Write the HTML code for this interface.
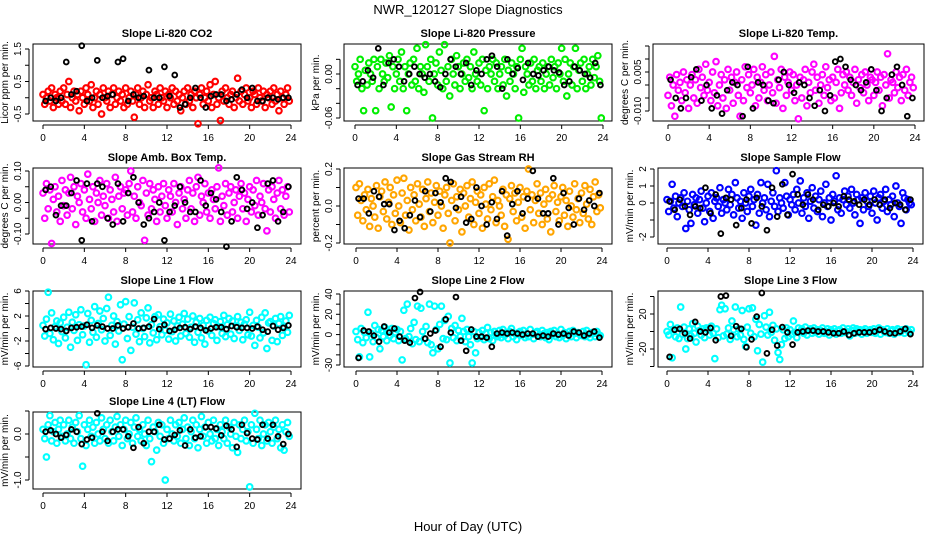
<!DOCTYPE html>
<html><head><meta charset="utf-8">
<style>
html,body{margin:0;padding:0;background:#fff;}
svg{display:block;font-family:"Liberation Sans",sans-serif;}
</style></head>
<body>
<svg id="chart" width="936" height="540" viewBox="0 0 936 540" xmlns="http://www.w3.org/2000/svg">
<text x="468" y="14" text-anchor="middle" font-size="13">NWR_120127  Slope Diagnostics</text>
<text x="468" y="531" text-anchor="middle" font-size="13">Hour of Day (UTC)</text>
</svg>
<script>
// ---- data: colored = all measurements (x = index/6 h), black = highlighted points (x = 0.25 + index/2 h)
const hourTicks = [0,4,8,12,16,20,24];

const co2Col = [0.1,-0.2,0.0,0.2,-0.1,0.3,-0.3,0.1,0.0,-0.2,0.2,-0.1,0.3,-0.2,0.1,0.5,-0.3,0.0,0.2,-0.1,0.1,-0.4,0.2,0.0,-0.2,0.3,0.1,-0.1,0.4,-0.3,0.0,0.2,-0.2,0.1,-0.5,0.3,0.0,-0.1,0.2,-0.3,0.1,0.3,-0.2,0.0,0.2,-0.1,0.1,-0.3,0.3,-0.2,0.0,0.2,-0.1,-0.6,0.1,0.3,-0.2,0.0,0.2,-0.3,0.1,0.4,-0.1,0.0,-0.3,0.2,0.1,-0.2,0.3,0.0,-0.1,0.2,-0.3,0.1,0.0,0.3,-0.2,0.2,-0.1,0.1,-0.4,0.0,0.2,-0.2,0.3,-0.1,0.1,-0.3,0.2,0.0,-0.8,0.1,0.3,-0.2,0.0,0.2,-0.1,0.4,-0.3,0.1,0.5,-0.2,0.0,-0.7,0.2,-0.1,0.3,0.0,-0.2,0.1,0.2,-0.3,0.0,0.6,-0.1,0.2,-0.2,0.1,0.3,-0.1,0.0,-0.3,0.2,0.1,-0.2,0.3,0.0,-0.1,0.2,-0.3,0.1,0.0,0.2,-0.2,0.3,-0.1,0.1,-0.4,0.2,0.0,-0.2,0.1,0.3,-0.1];
const co2Blk = [-0.1,0.0,-0.1,0.0,1.1,0.1,0.2,1.6,-0.1,0.0,1.15,0.0,0.05,0.1,1.1,1.2,-0.1,0.1,0.0,0.05,0.85,0.0,0.0,0.95,0.05,0.7,-0.3,-0.2,0.0,0.3,0.0,-0.3,0.05,0.1,0.1,-0.1,-0.05,0.1,0.25,0.0,0.3,-0.1,-0.1,0.0,0.0,-0.05,0.0,0.0];

const presCol = [0.01,-0.01,0.0,0.02,-0.02,-0.05,0.005,-0.015,0.015,0.0,-0.01,0.02,-0.05,0.01,-0.02,0.02,0.0,-0.01,0.015,-0.005,0.025,-0.045,0.01,-0.02,0.0,0.02,-0.01,0.03,-0.02,0.01,-0.05,0.0,0.015,-0.015,0.02,-0.01,0.035,-0.02,0.01,0.0,-0.025,0.04,0.01,-0.01,0.02,-0.06,0.0,0.015,-0.015,0.03,0.005,-0.02,0.04,-0.01,0.01,-0.03,0.02,0.0,-0.015,0.025,0.01,-0.02,0.0,0.015,-0.01,0.02,-0.005,0.01,-0.02,0.03,0.0,-0.01,0.015,-0.015,0.02,-0.05,0.005,-0.02,0.01,0.0,0.02,-0.01,0.015,-0.02,0.0,0.01,-0.015,0.02,-0.03,0.005,-0.01,0.015,0.0,-0.02,0.01,-0.06,0.02,0.035,-0.025,0.01,0.0,-0.015,0.015,-0.01,0.02,-0.02,0.005,0.01,-0.01,0.015,-0.02,0.0,0.01,-0.015,0.02,-0.005,0.01,-0.02,0.015,0.0,0.035,-0.01,0.02,-0.03,0.0,0.015,-0.015,0.01,0.035,-0.02,0.005,0.015,-0.01,0.02,-0.02,0.0,0.01,-0.015,0.02,-0.005,0.01,0.025,-0.01,-0.06];
const presBlk = [-0.015,-0.01,0.005,-0.005,0.035,-0.015,0.015,0.02,0.01,-0.01,0.0,0.01,0.0,-0.005,0.0,-0.01,-0.018,0.0,0.02,0.01,0.0,0.015,-0.015,0.005,0.0,0.02,0.025,0.01,-0.02,0.02,0.0,0.008,-0.008,0.015,0.0,-0.002,0.005,0.01,0.005,0.002,-0.015,-0.01,0.01,0.005,0.0,-0.005,0.015,-0.015];

const tempCol = [-0.004,0.003,-0.008,0.0,-0.012,0.004,-0.002,0.001,-0.006,0.005,-0.003,0.002,-0.009,0.0,0.004,-0.005,0.002,-0.007,0.006,-0.001,0.003,-0.004,0.008,-0.002,0.001,-0.006,0.005,-0.003,0.009,-0.008,0.0,0.004,-0.005,0.002,-0.009,0.006,-0.002,0.003,-0.007,0.001,0.005,-0.004,-0.012,0.002,-0.006,0.007,-0.001,0.004,-0.003,0.0,0.006,-0.008,0.003,-0.005,0.001,0.007,-0.002,0.004,-0.006,0.0,0.005,-0.003,0.011,-0.007,0.002,-0.001,0.006,-0.009,0.003,-0.004,0.001,0.005,-0.002,0.004,-0.006,0.0,-0.013,0.003,-0.005,0.002,0.006,-0.008,0.001,-0.003,0.005,0.008,-0.002,0.003,-0.007,0.0,0.004,-0.004,0.007,-0.001,0.002,-0.006,0.003,-0.005,0.001,0.006,-0.009,-0.003,0.004,0.0,0.005,-0.002,0.003,-0.004,0.001,0.006,-0.007,0.002,-0.001,0.004,-0.003,0.005,0.0,-0.006,0.003,0.002,-0.004,0.001,0.005,-0.002,0.003,-0.008,0.004,0.0,0.012,-0.005,0.002,0.001,-0.003,0.005,-0.001,0.003,-0.006,0.004,-0.002,0.006,-0.004,0.001,0.003,-0.001];
const tempBlk = [0.002,-0.005,-0.009,-0.005,0.003,0.006,-0.006,0.0,-0.009,-0.004,-0.011,-0.002,0.001,0.0,-0.012,0.007,-0.009,0.001,0.0,-0.006,-0.007,0.002,0.005,0.0,-0.003,0.001,0.0,-0.005,-0.008,-0.002,-0.010,-0.004,0.009,0.010,0.007,0.002,0.0,-0.002,0.001,0.006,-0.002,-0.010,-0.005,0.004,0.007,0.0,-0.012,-0.005];

const ambCol = [0.03,-0.05,0.06,-0.02,0.04,-0.13,0.01,0.05,-0.03,0.02,-0.06,0.07,-0.01,0.04,-0.04,0.03,0.08,-0.02,0.05,-0.07,0.02,0.0,0.06,-0.03,0.04,-0.05,0.09,0.01,-0.02,0.05,-0.06,0.03,0.0,0.07,-0.04,0.02,-0.01,0.06,-0.05,0.04,0.01,-0.03,0.08,-0.06,0.02,0.05,-0.02,0.03,0.04,-0.04,0.06,0.1,-0.03,0.02,-0.05,0.05,0.0,-0.01,0.07,-0.12,0.03,-0.04,0.06,-0.02,0.04,0.01,-0.06,0.05,-0.03,0.02,0.06,-0.01,-0.05,0.04,0.02,-0.03,0.06,0.0,-0.07,0.03,0.05,-0.02,0.01,-0.05,0.04,0.07,-0.02,0.03,-0.06,0.05,0.08,-0.04,0.02,0.0,0.06,-0.03,0.03,-0.05,0.04,0.01,-0.02,0.05,0.11,-0.06,0.02,-0.01,0.06,-0.04,0.03,0.05,-0.03,0.0,0.04,-0.05,0.02,0.06,-0.02,0.03,-0.06,0.01,0.05,-0.03,0.04,-0.01,0.07,-0.04,0.02,0.0,0.06,-0.02,-0.09,0.04,-0.03,0.05,0.01,-0.05,0.03,0.07,-0.02,0.04,-0.04,0.02,0.05,-0.03];
const ambBlk = [0.04,0.05,-0.04,-0.01,-0.01,0.03,0.07,-0.12,0.06,-0.06,0.06,0.05,-0.05,-0.07,0.06,-0.06,0.03,0.08,0.0,-0.07,-0.05,-0.03,0.0,-0.12,-0.03,-0.01,0.05,0.0,-0.03,-0.03,0.07,-0.01,0.03,0.01,-0.03,-0.14,-0.06,0.08,0.04,-0.02,0.0,-0.08,-0.04,0.06,0.07,-0.06,-0.03,0.05];

const rhCol = [0.1,-0.05,0.12,0.03,-0.08,0.06,-0.02,0.09,-0.11,0.04,0.0,-0.06,0.11,-0.12,0.05,0.08,-0.03,0.13,-0.07,0.02,0.1,-0.1,0.06,-0.04,0.14,0.0,-0.09,0.07,0.15,-0.05,0.03,-0.13,0.1,-0.02,0.06,-0.08,0.12,0.01,-0.06,0.09,-0.11,0.04,0.13,-0.03,0.07,-0.09,0.02,0.11,-0.05,0.08,0.0,-0.12,0.06,0.1,-0.04,-0.2,0.03,0.12,-0.08,0.05,-0.02,0.09,-0.14,0.07,0.0,0.11,-0.06,0.04,0.13,-0.1,0.02,0.08,-0.04,0.06,-0.12,0.1,0.01,-0.07,0.12,-0.02,0.05,0.14,-0.09,0.03,0.0,-0.05,0.09,-0.11,0.06,-0.18,0.04,0.11,-0.03,0.07,-0.08,0.02,0.1,-0.06,0.05,-0.12,0.08,0.2,-0.02,0.06,-0.09,0.03,0.12,-0.04,0.07,-0.1,0.01,0.09,-0.07,0.04,-0.14,0.06,0.11,-0.03,0.02,-0.08,0.05,0.1,-0.05,0.03,-0.11,0.08,0.0,-0.06,0.12,-0.02,0.04,-0.09,0.07,-0.04,0.11,0.01,-0.07,0.09,-0.1,0.05,0.13,-0.03,0.06,-0.01];
const rhBlk = [0.04,0.04,-0.04,0.08,0.05,0.01,0.01,-0.13,-0.08,-0.12,-0.05,0.03,-0.06,0.08,-0.03,0.07,0.02,0.15,0.13,-0.01,0.05,-0.09,-0.07,0.10,0.0,-0.1,0.02,-0.07,0.08,-0.16,0.01,0.08,-0.04,0.04,0.19,0.04,-0.04,-0.04,0.15,-0.1,0.07,-0.01,-0.1,0.04,-0.02,0.03,0.0,0.07];

const sampCol = [0.2,-0.5,0.1,1.1,-0.3,0.4,-0.8,0.0,0.3,-0.2,0.6,-1.5,0.1,-0.4,-1.2,0.5,-0.1,0.3,-0.6,0.2,0.7,-0.3,-1.1,0.0,0.4,-0.5,0.6,-0.9,0.1,0.3,-0.2,0.9,-0.6,0.2,0.0,-0.4,0.8,-0.1,0.5,-0.7,1.2,0.3,-0.3,0.1,-0.9,0.6,0.0,-0.5,0.4,0.8,-0.2,0.2,-1.3,0.5,-0.6,1.2,0.0,0.3,-0.4,1.1,-0.8,0.1,0.6,-0.2,1.9,-0.5,0.3,0.0,-0.3,1.2,0.4,-0.7,0.2,-0.1,0.5,-0.4,0.8,0.0,1.3,-0.6,0.3,-0.2,0.6,-0.9,0.1,0.9,-0.3,0.4,-0.5,0.2,0.7,-0.8,0.0,1.1,-0.2,0.3,-1.0,0.5,0.1,1.6,-0.4,0.3,-0.6,0.2,0.7,-0.1,0.4,-0.3,0.8,0.0,-0.7,0.5,0.2,-1.2,0.3,-0.4,0.6,0.1,-0.2,0.4,-0.6,0.7,0.0,-1.0,0.3,0.5,-0.3,0.1,0.8,-0.5,0.2,-0.1,0.4,-0.8,1.0,0.0,-0.2,-1.2,0.6,0.3,-0.4,0.2,0.0,-0.1];
const sampBlk = [0.1,-0.4,0.2,-0.2,-0.7,-0.2,-0.3,0.9,-0.6,0.5,-1.8,0.3,0.2,-1.3,-0.3,0.2,-1.2,0.3,-0.2,-1.6,0.9,-0.8,1.1,-0.7,1.7,0.5,-0.1,0.5,0.2,-0.4,-0.1,-0.2,0.0,-0.2,0.4,0.2,0.1,-0.1,0.2,-0.1,0.2,-0.1,0.2,-0.3,0.0,-0.1,-0.4,0.2];

const line1Col = [0.5,-1.2,1.5,5.8,-0.8,2.5,-1.8,0.3,1.2,-2.4,0.9,-0.5,1.8,-1.5,0.2,2.6,-3.0,1.0,-0.3,2.2,-1.9,0.6,3.0,-1.0,0.4,-5.8,2.4,-2.2,1.3,-0.6,3.5,-1.4,0.8,2.8,-0.2,1.6,-2.0,3.2,5.0,-1.1,0.5,2.0,-2.5,1.1,-0.4,3.8,-5.0,0.7,4.3,-1.6,1.9,-3.5,0.2,4.1,-0.9,1.4,-2.1,2.5,0.0,-1.3,1.7,3.3,-2.3,0.6,-0.7,1.9,-1.8,2.2,0.3,-1.0,1.5,-0.3,0.9,-1.7,2.3,-0.5,1.2,-2.0,0.4,1.8,-1.2,0.7,2.4,-0.8,1.5,-1.4,0.2,2.0,-2.2,1.0,-0.6,1.6,-1.5,0.5,-2.5,1.3,-0.4,1.8,-1.1,0.8,1.4,-1.9,0.3,1.1,-0.8,2.1,-1.3,0.6,1.6,-0.9,1.2,-1.6,0.4,1.9,-0.3,1.0,-1.8,0.7,1.4,-1.0,2.6,-1.2,0.5,-2.7,1.3,0.2,-1.5,1.8,-0.7,2.5,-3.2,0.9,1.1,-1.9,0.4,1.6,-2.1,0.8,1.9,-1.1,0.3,1.2,-0.6,2.1];
const line1Blk = [-0.1,0.1,0.0,-0.1,-0.4,0.1,0.2,0.3,0.6,0.1,0.5,0.3,0.0,0.0,0.5,0.0,0.2,0.8,0.0,0.1,0.3,1.5,-0.1,0.6,-0.4,-0.2,0.1,0.2,-0.1,0.3,0.1,-0.3,0.0,0.2,0.2,-0.1,0.4,0.2,0.1,0.1,0.0,0.3,-0.2,-0.5,0.4,-0.2,0.1,0.5];

const line2Col = [3,-5,-22,6,-8,2,-3,22,-22,1,-7,9,-3,5,-14,4,-2,7,-6,3,-1,6,-4,2,5,-6,3,-25,24,-4,30,-2,6,-9,12,-5,28,-7,26,3,-4,8,-8,30,-10,-18,28,5,-14,10,28,-4,14,-5,18,-28,6,-3,9,-6,4,-2,16,3,-7,5,-2,-10,-28,3,-18,-4,2,-3,4,-5,1,7,-4,2,-6,3,0,-2,4,-3,5,-1,2,-4,3,6,-2,1,-5,2,3,-1,4,-3,1,-2,5,0,-4,2,3,-1,-2,4,1,-3,2,-5,3,0,4,-2,1,-3,5,-1,2,-4,0,3,-2,4,1,-3,2,0,-1,3,-2,4,0,-3,2,1,-2,3,0,-1];
const line2Blk = [-23,4,3,-1,-7,8,2,6,-2,-6,-8,36,42,-4,1,4,-12,15,2,37,-6,-16,5,-2,-2,-3,-12,1,2,1,2,1,0,1,1,-2,-1,-2,1,0,1,-1,3,2,-1,1,3,-3];

const line3Col = [0,-4,8,-30,2,-6,4,-8,28,-3,5,-20,-8,3,-5,9,-2,-12,6,1,-4,3,-7,4,2,-4,6,-2,-31,3,-7,25,30,-5,26,-3,4,-9,12,2,28,-6,3,-4,24,-9,-17,5,26,-2,27,-6,14,-22,8,-3,-35,18,5,-4,22,-1,7,-10,3,-24,-32,-15,2,-8,4,-6,2,-3,12,-1,-7,4,0,3,-2,5,-4,1,3,-2,4,-1,2,-3,1,4,-2,0,3,-4,2,-1,3,-3,1,2,-2,4,-1,0,3,-5,1,4,-2,3,-1,2,-3,1,3,-2,0,2,-1,3,-2,1,4,-3,2,0,-1,3,-2,1,2,-3,1,3,-1,0,2,-2,3,1,-1,2];
const line3Blk = [-29,2,3,-2,-8,11,0,-1,4,-10,40,41,-5,6,3,-18,-9,17,44,-25,2,-16,5,-1,-15,-1,0,1,1,0,0,-1,-2,-2,0,-4,-2,-1,-1,-1,0,2,0,-2,-2,0,3,-3];

const line4Col = [0.1,-0.1,-0.5,0.2,0.4,-0.15,0.05,0.25,-0.2,0.1,0.3,-0.05,0.2,-0.15,0.0,0.3,-0.1,0.15,-0.2,0.25,0.05,0.4,-0.1,-0.7,0.2,-0.25,0.1,0.3,-0.05,0.15,-0.2,0.25,0.0,-0.15,0.35,0.1,-0.1,0.2,-0.2,0.3,0.05,-0.15,0.15,0.38,-0.05,0.2,-0.25,0.1,0.3,-0.1,0.0,0.25,-0.2,0.15,0.35,-0.05,0.1,-0.15,0.2,0.0,-0.25,0.3,-0.1,-0.6,0.15,0.05,-0.35,0.25,-0.05,0.2,-0.2,-1.0,0.1,-0.1,0.3,0.0,-0.15,0.2,-0.05,0.25,-0.2,0.1,0.35,-0.1,0.15,-0.25,0.05,0.3,-0.1,0.2,-0.3,0.1,0.38,-0.05,0.15,-0.2,0.25,0.0,-0.15,0.3,-0.1,0.1,-0.25,0.2,0.05,-0.1,0.3,-0.2,0.15,0.0,-0.3,0.25,-0.05,-0.4,0.2,-0.1,0.1,0.3,-0.15,0.05,-1.15,0.2,-0.2,0.45,0.1,-0.1,0.3,-0.25,0.0,0.2,-0.15,0.25,0.05,-0.2,0.15,0.3,-0.1,0.1,-0.3,0.2,-0.35,0.05,0.25,-0.05];
const line4Blk = [0.05,0.08,0.0,-0.08,-0.02,0.1,0.05,-0.22,-0.12,-0.08,0.45,0.05,-0.15,0.05,0.1,0.1,-0.05,-0.3,0.15,-0.2,0.05,0.05,0.2,-0.12,-0.1,-0.02,0.08,-0.25,0.1,-0.08,-0.05,0.15,0.15,0.12,-0.03,0.18,0.1,-0.28,0.2,0.02,-0.1,-0.12,0.2,-0.1,0.2,-0.05,-0.22,0.0];

const co2Ticks=[-0.5,0,0.5,1,1.5], co2Labels=["-0.5","","0.5","","1.5"];
const presTicks=[-0.06,-0.04,-0.02,0,0.02], presLabels=["-0.06","","","0.00",""];
const tempTicks=[-0.010,-0.005,0,0.005,0.010,0.015], tempLabels=["-0.010","","","0.005","",""];
const ambTicks=[-0.1,-0.05,0,0.05,0.1], ambLabels=["-0.10","","0.00","","0.10"];
const rhTicks=[-0.2,-0.1,0,0.1,0.2], rhLabels=["-0.2","","0.0","","0.2"];
const sampTicks=[-2,-1,0,1,2], sampLabels=["-2","","0","1","2"];
const l1Ticks=[-6,-4,-2,0,2,4,6], l1Labels=["-6","","-2","","2","","6"];
const l2Ticks=[-30,-20,-10,0,10,20,30,40], l2Labels=["-30","","","0","","20","","40"];
const l3Ticks=[-40,-20,0,20,40], l3Labels=["","-20","","20",""];
const l4Ticks=[-1,-0.5,0,0.5], l4Labels=["-1.0","","0.0",""];

// ---- layout (pixels): panel boxes and two reference points for y scale
const panels = [
 {name:"co2",title:"Slope Li-820 CO2",ylab:"Licor ppm per min.",col:"#ff0000",c:co2Col,k:co2Blk,ticks:co2Ticks,labs:co2Labels,l:33,r:301,t:44,b:121,x0:43,x24:291,v1:1.5,p1:49,v2:-0.5,p2:114},
 {name:"pressure",title:"Slope Li-820 Pressure",ylab:"kPa per min.",col:"#00ee00",c:presCol,k:presBlk,ticks:presTicks,labs:presLabels,l:344,r:612,t:44,b:121,x0:355,x24:603,v1:0,p1:74,v2:-0.06,p2:118},
 {name:"temp",title:"Slope Li-820 Temp.",ylab:"degrees C per min.",col:"#ff00ff",c:tempCol,k:tempBlk,ticks:tempTicks,labs:tempLabels,l:653,r:924,t:44,b:121,x0:668,x24:915,v1:0.005,p1:72,v2:-0.010,p2:111},
 {name:"amb-box-temp",title:"Slope Amb. Box Temp.",ylab:"degrees C per min.",col:"#ff00ff",c:ambCol,k:ambBlk,ticks:ambTicks,labs:ambLabels,l:33,r:301,t:168,b:244,x0:43,x24:291,v1:0.1,p1:171,v2:-0.1,p2:234},
 {name:"gas-stream-rh",title:"Slope Gas Stream RH",ylab:"percent per min.",col:"#ffa500",c:rhCol,k:rhBlk,ticks:rhTicks,labs:rhLabels,l:344,r:612,t:168,b:244,x0:356,x24:602,v1:0.2,p1:169,v2:-0.2,p2:243},
 {name:"sample-flow",title:"Slope Sample Flow",ylab:"mV/min per min.",col:"#0000ff",c:sampCol,k:sampBlk,ticks:sampTicks,labs:sampLabels,l:658,r:923,t:168,b:244,x0:667,x24:913,v1:2,p1:169,v2:-2,p2:237},
 {name:"line1-flow",title:"Slope Line 1 Flow",ylab:"mV/min per min.",col:"#00ffff",c:line1Col,k:line1Blk,ticks:l1Ticks,labs:l1Labels,l:33,r:301,t:291,b:367,x0:43,x24:291,v1:6,p1:291,v2:-6,p2:366},
 {name:"line2-flow",title:"Slope Line 2 Flow",ylab:"mV/min per min.",col:"#00ffff",c:line2Col,k:line2Blk,ticks:l2Ticks,labs:l2Labels,l:344,r:612,t:291,b:367,x0:356,x24:602,v1:40,p1:294,v2:-30,p2:365},
 {name:"line3-flow",title:"Slope Line 3 Flow",ylab:"mV/min per min.",col:"#00ffff",c:line3Col,k:line3Blk,ticks:l3Ticks,labs:l3Labels,l:658,r:923,t:291,b:367,x0:667,x24:913,v1:20,p1:314,v2:-20,p2:349},
 {name:"line4-flow",title:"Slope Line 4 (LT) Flow",ylab:"mV/min per min.",col:"#00ffff",c:line4Col,k:line4Blk,ticks:l4Ticks,labs:l4Labels,l:33,r:301,t:412,b:489,x0:43,x24:291,v1:0,p1:434,v2:-1,p2:480}
];

const NS="http://www.w3.org/2000/svg";
const svg=document.getElementById('chart');
function mk(tag,attrs,parent){const e=document.createElementNS(NS,tag);for(const a in attrs)e.setAttribute(a,attrs[a]);(parent||svg).appendChild(e);return e;}

panels.forEach(p=>{
  const g=mk('g',{});
  
  
  const xs=h=>p.x0+(p.x24-p.x0)*h/24;
  const ys=v=>p.p1+(v-p.v1)*(p.p2-p.p1)/(p.v2-p.v1);
  const cx=(p.l+p.r)/2;
  const t=mk('text',{x:cx,y:p.t-7,'text-anchor':'middle','font-size':'11','font-weight':'bold'},g);
  t.textContent=p.title;
  
  
  const box=mk('rect',{x:p.l,y:p.t,width:p.r-p.l,height:p.b-p.t,fill:'none',stroke:'#000','stroke-width':1},g);
  
  
  const ax=p.b+4;
  const xa=mk('line',{x1:xs(0),x2:xs(24),y1:ax,y2:ax,stroke:'#000'},g);
  
  
  hourTicks.forEach(h=>{
    mk('line',{x1:xs(h),x2:xs(h),y1:ax,y2:ax+4,stroke:'#000'},g);
    const tl=mk('text',{x:xs(h),y:ax+16,'text-anchor':'middle','font-size':'10'},g);
    tl.textContent=h;
    
    
  });
  const ay=p.l-4;
  const ya=mk('line',{x1:ay,x2:ay,y1:ys(p.ticks[0]),y2:ys(p.ticks[p.ticks.length-1]),stroke:'#000'},g);
  
  
  p.ticks.forEach((v,i)=>{
    mk('line',{x1:ay-4,x2:ay,y1:ys(v),y2:ys(v),stroke:'#000'},g);
    if(p.labs[i]){
      const yl=mk('text',{x:0,y:0,'text-anchor':'middle','font-size':'10',transform:`translate(${ay-8},${ys(v)}) rotate(-90)`},g);
      yl.textContent=p.labs[i];
      
      
    }
  });
  const yt=mk('text',{x:0,y:0,'text-anchor':'middle','font-size':'10',transform:`translate(${p.l-25},${(p.t+p.b)/2}) rotate(-90)`},g);
  yt.textContent=p.ylab;
  
  
  p.c.forEach((v,i)=>{
    const c=mk('circle',{cx:xs(i/6),cy:ys(v),r:2.8,fill:'none',stroke:p.col,'stroke-width':2.1},g);
    
    
  });
  p.k.forEach((v,i)=>{
    const c=mk('circle',{cx:xs(0.25+i/2),cy:ys(v),r:2.4,fill:'none',stroke:'#000','stroke-width':1.9},g);
    
    
  });
});
</script>
</body></html>
